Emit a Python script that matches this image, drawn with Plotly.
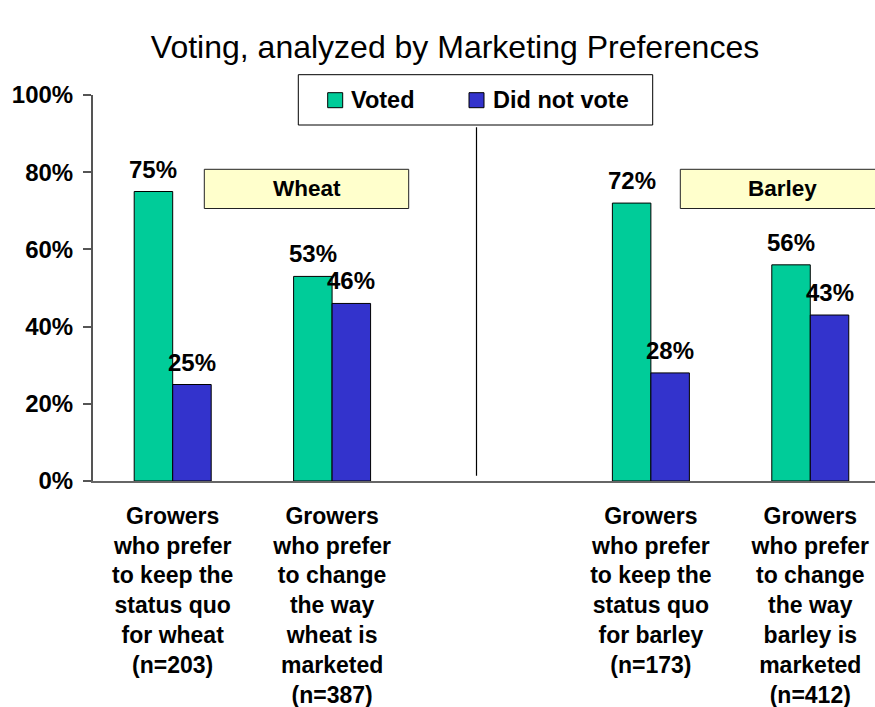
import plotly.graph_objects as go

# ---- data -------------------------------------------------------------
# None marks the empty slot separating the wheat and barley groups
categories = [
    "Growers<br>who prefer<br>to keep the<br>status quo<br>for wheat<br>(n=203)",
    "Growers<br>who prefer<br>to change<br>the way<br>wheat is<br>marketed<br>(n=387)",
    None,
    "Growers<br>who prefer<br>to keep the<br>status quo<br>for barley<br>(n=173)",
    "Growers<br>who prefer<br>to change<br>the way<br>barley is<br>marketed<br>(n=412)",
]
series_names = ["Voted", "Did not vote"]
voted = [75, 53, 72, 56]
did_not_vote = [25, 46, 28, 43]
y_ticks = [0, 20, 40, 60, 80, 100]
group_labels = ["Wheat", "Barley"]
title_text = "Voting, analyzed by Marketing Preferences"

# ---- styling / layout ---------------------------------------------------
W, H = 875, 707
ML, MR, MT, MB = 93, 0, 95, 226
PW, PH = W - ML - MR, H - MT - MB
FONT = "Liberation Sans, Arial, sans-serif"
GREEN = "#00CC99"
BLUE = "#3333CC"
BAR_GAP = 0.517
X_MAX = 4.406

slots = [i for i, c in enumerate(categories) if c is not None]
labels = [c for c in categories if c is not None]
bar_w = (1 - BAR_GAP) / 2
offsets = [-bar_w / 2, bar_w / 2]


def px_x(px):
    return (px - ML) / PW


def px_y(py):
    return (H - MB - py) / PH


fig = go.Figure()
for name, vals, col in zip(series_names, [voted, did_not_vote], [GREEN, BLUE]):
    fig.add_trace(go.Bar(
        x=slots, y=vals, name=name, showlegend=False,
        marker=dict(color=col, line=dict(color="#000000", width=1)),
        hoverinfo="skip",
    ))

# value labels above each bar
annotations = []
for vals, off in zip([voted, did_not_vote], offsets):
    for s, v in zip(slots, vals):
        annotations.append(dict(
            x=s + off, y=v, xref="x", yref="y", text=f"<b>{v}%</b>",
            showarrow=False, yanchor="bottom", xanchor="center", yshift=7,
            font=dict(family=FONT, size=24, color="#000000"),
        ))

shapes = []

# legend box
leg_x0, leg_x1, leg_y0, leg_y1 = 298.3, 652.7, 74.7, 125.0
shapes.append(dict(type="rect", xref="paper", yref="paper",
                   x0=px_x(leg_x0), x1=px_x(leg_x1), y0=px_y(leg_y1), y1=px_y(leg_y0),
                   line=dict(color="#000000", width=1), fillcolor="#FFFFFF", layer="above"))
leg_items = [(327.7, 349.0), (469.0, 491.0)]
sq = 15
sq_top = 92.7
for (sx, tx), name, col in zip(leg_items, series_names, [GREEN, BLUE]):
    shapes.append(dict(type="rect", xref="paper", yref="paper",
                       x0=px_x(sx), x1=px_x(sx + sq), y0=px_y(sq_top + sq), y1=px_y(sq_top),
                       line=dict(color="#000000", width=1), fillcolor=col, layer="above"))
    annotations.append(dict(
        x=px_x(tx), y=px_y(sq_top + sq / 2), xref="paper", yref="paper",
        text=f"<b>{name}</b>", showarrow=False, xanchor="left", yanchor="middle",
        font=dict(family=FONT, size=23.5, color="#000000"),
    ))

# separator between the wheat and barley groups
shapes.append(dict(type="line", xref="paper", yref="paper",
                   x0=px_x(476.5), x1=px_x(476.5), y0=px_y(475.7), y1=px_y(127.3),
                   line=dict(color="#000000", width=1.2)))

# crop name boxes
for label, (bx0, bx1) in zip(group_labels, [(204.3, 408.7), (680.3, 885.0)]):
    shapes.append(dict(type="rect", xref="paper", yref="paper",
                       x0=px_x(bx0), x1=px_x(bx1), y0=px_y(208.5), y1=px_y(169.3),
                       line=dict(color="#222222", width=1), fillcolor="#FFFFCC",
                       layer="above"))
    annotations.append(dict(
        x=px_x((bx0 + bx1) / 2), y=px_y((169.3 + 208.5) / 2), xref="paper", yref="paper",
        text=f"<b>{label}</b>", showarrow=False, xanchor="center", yanchor="middle",
        font=dict(family=FONT, size=22.5, color="#000000"),
    ))

fig.update_layout(
    width=W, height=H,
    margin=dict(l=ML, r=MR, t=MT, b=MB, pad=0, autoexpand=False),
    paper_bgcolor="#FFFFFF", plot_bgcolor="#FFFFFF",
    barmode="group", bargap=BAR_GAP, bargroupgap=0,
    font=dict(family=FONT, color="#000000"),
    title=dict(text=title_text, x=px_x(455), xref="paper", xanchor="center",
               y=1 - 47 / H, yref="container", yanchor="middle",
               font=dict(family=FONT, size=32, color="#000000")),
    xaxis=dict(
        range=[-0.5, X_MAX], tickvals=slots, ticktext=labels,
        showline=True, linecolor="#666666", linewidth=2,
        ticks="", showgrid=False, zeroline=False, automargin=False,
        tickfont=dict(family=FONT, size=23, color="#000000", weight="bold"),
        ticklabelstandoff=13,
    ),
    yaxis=dict(
        range=[0, 100], tickvals=y_ticks, ticktext=[f"{t}%" for t in y_ticks],
        showline=True, linecolor="#555555", linewidth=2,
        ticks="outside", ticklen=8, tickwidth=2, tickcolor="#555555",
        showgrid=False, zeroline=False, automargin=False,
        tickfont=dict(family=FONT, size=24, color="#000000", weight="bold"),
        ticklabelstandoff=5,
    ),
    shapes=shapes, annotations=annotations,
)

fig.write_html("out.html")
